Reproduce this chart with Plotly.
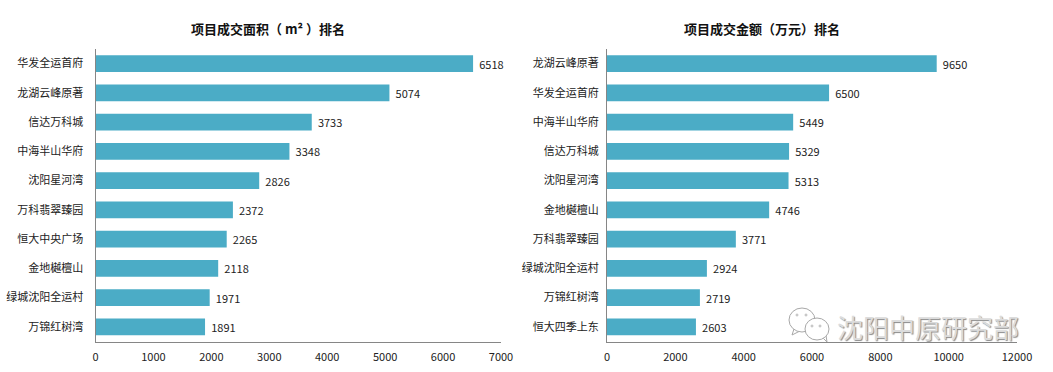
import plotly.graph_objects as go
from plotly.subplots import make_subplots

area_names = ["华发全运首府", "龙湖云峰原著", "信达万科城", "中海半山华府", "沈阳星河湾",
              "万科翡翠臻园", "恒大中央广场", "金地樾檀山", "绿城沈阳全运村", "万锦红树湾"]
area_values = [6518, 5074, 3733, 3348, 2826, 2372, 2265, 2118, 1971, 1891]
amount_names = ["龙湖云峰原著", "华发全运首府", "中海半山华府", "信达万科城", "沈阳星河湾",
                "金地樾檀山", "万科翡翠臻园", "绿城沈阳全运村", "万锦红树湾", "恒大四季上东"]
amount_values = [9650, 6500, 5449, 5329, 5313, 4746, 3771, 2924, 2719, 2603]
area_title = "项目成交面积（ m² ）排名"
amount_title = "项目成交金额（万元）排名"

FONT = "Noto Sans CJK SC"
BAR = "#4bacc6"
W, H = 1053, 372

fig = make_subplots(rows=1, cols=2)
for col, names, vals in [(1, area_names, area_values), (2, amount_names, amount_values)]:
    fig.add_trace(go.Bar(
        y=names, x=vals, orientation="h", marker=dict(color=BAR, line_width=0),
        text=["\u00a0\u200a" + str(v) for v in vals], textposition="outside", cliponaxis=False,
        textfont=dict(family=FONT, size=11, color="#222222"), showlegend=False,
    ), row=1, col=col)

fig.update_yaxes(autorange="reversed", showgrid=False, ticks="", automargin=False,
                 showline=True, linecolor="#868686", linewidth=1,
                 tickfont=dict(family=FONT, size=11, color="#222222"))
fig.update_xaxes(showgrid=False, zeroline=False, showline=True, linecolor="#868686", linewidth=1,
                 ticks="", tickformat="d", ticklabelstandoff=5, automargin=False,
                 tickfont=dict(family=FONT, size=11, color="#222222"))
fig.update_xaxes(range=[0, 7000], dtick=1000, domain=[95.5 / W, 501 / W], row=1, col=1)
fig.update_xaxes(range=[0, 12000], dtick=2000, domain=[607 / W, 1017 / W], row=1, col=2)
fig.update_yaxes(domain=[1 - 341.5 / H, 1 - 49 / H])
fig.update_yaxes(ticklabelstandoff=9, row=1, col=1)
fig.update_yaxes(ticklabelstandoff=5, row=1, col=2)


def px(x):
    return x / W


def py(y):
    return 1 - y / H


for title, cx in [(area_title, 268), (amount_title, 762)]:
    fig.add_annotation(text="<b>%s</b>" % title, xref="paper", yref="paper",
                       x=px(cx), y=py(28), xanchor="center", yanchor="middle", showarrow=False,
                       font=dict(family=FONT, size=13, color="#111111"))

# Watermark
fig.add_annotation(text="沈阳中原研究部", xref="paper", yref="paper", x=px(928), y=py(326),
                   xanchor="center", yanchor="middle", showarrow=False,
                   font=dict(family=FONT, size=26, color="#dcdcdc", shadow="1px 1px 1px #8a8a8a"))
GRAY = "#a8a8a8"
for path in ["M794,329 L792,335 L800,331", "M822,337 L827,342 L826,335"]:
    pts = [p.split(",") for p in path[1:].split(" L")]
    d = "M" + " L".join("%f,%f" % (px(float(a)), py(float(b))) for a, b in pts)
    fig.add_shape(type="path", xref="paper", yref="paper", path=d, fillcolor="white",
                  line=dict(color=GRAY, width=1))
for x0, y0, x1, y1 in [(789, 308, 815, 332), (805, 318, 829, 340)]:
    fig.add_shape(type="circle", xref="paper", yref="paper", x0=px(x0), x1=px(x1),
                  y0=py(y1), y1=py(y0), fillcolor="white", line=dict(color=GRAY, width=1))
for ex, ey in [(797, 315), (806, 315), (812, 326), (820, 326)]:
    fig.add_shape(type="circle", xref="paper", yref="paper", x0=px(ex - 1), x1=px(ex + 1),
                  y0=py(ey + 1), y1=py(ey - 1), fillcolor="white", line=dict(color=GRAY, width=0.8))

fig.update_layout(width=W, height=H, margin=dict(l=0, r=0, t=0, b=0, autoexpand=False), bargap=0.42,
                  plot_bgcolor="white", paper_bgcolor="white", font=dict(family=FONT))
fig.write_html("out.html", post_script="document.body.style.margin='0';",
               config={"displayModeBar": False})
